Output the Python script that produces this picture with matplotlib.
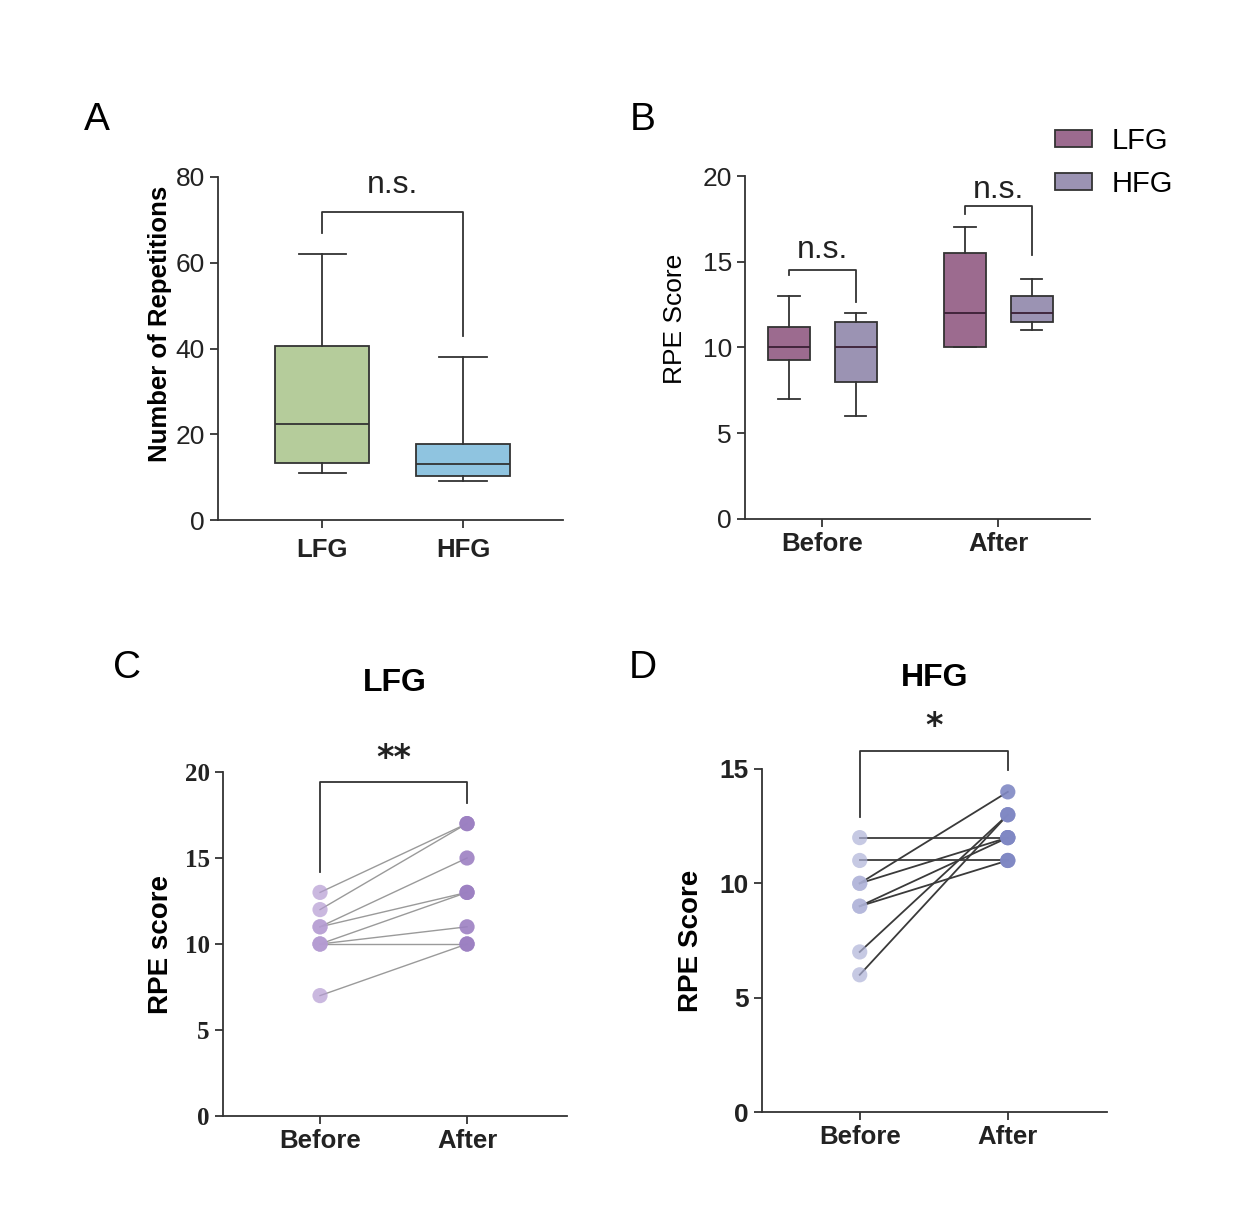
import numpy as np
import matplotlib
matplotlib.use("Agg")
import matplotlib.pyplot as plt
from matplotlib.patches import Patch

plt.rcParams['font.family'] = ['Liberation Sans', 'DejaVu Sans']

# ---- data ----
# panel A: number of repetitions (box stats: whislo, q1, med, q3, whishi)
groups_a = ['LFG', 'HFG']
stats_a = [[11, 13.2, 22.5, 40.5, 62],
           [9, 10.2, 13, 17.8, 38]]

# panel B: RPE before/after per group
times_b = ['Before', 'After']
stats_b_lfg = [[7, 9.3, 10, 11.2, 13], [10, 10, 12, 15.5, 17]]
stats_b_hfg = [[6, 8, 10, 11.5, 12], [11, 11.5, 12, 13, 14]]

# panel C: LFG paired RPE
lfg_before = [13, 12, 11, 11, 10, 10, 10, 7]
lfg_after = [17, 17, 15, 13, 13, 11, 10, 10]

# panel D: HFG paired RPE
hfg_before = [12, 11, 10, 10, 9, 9, 7, 6]
hfg_after = [12, 11, 14, 12, 12, 11, 13, 13]

W, H = 1240, 1231
fig = plt.figure(figsize=(W / 100, H / 100), dpi=100)


def px_axes(x0, y_top, x1, y_bot):
    return fig.add_axes([x0 / W, 1 - y_bot / H, (x1 - x0) / W, (y_bot - y_top) / H])


def style(ax):
    for s in ['top', 'right']:
        ax.spines[s].set_visible(False)
    for s in ['left', 'bottom']:
        ax.spines[s].set_linewidth(1.3)
        ax.spines[s].set_color('#333333')
    ax.tick_params(width=1.3, length=6, color='#333333', labelcolor='#222222')


def to_bxp(s, label):
    return dict(whislo=s[0], q1=s[1], med=s[2], q3=s[3], whishi=s[4], label=label, fliers=[])


def bracket(ax, x0, x1, y_left, y_top, y_right, text, ty, fs, weight='normal', family=None):
    ax.plot([x0, x0, x1, x1], [y_left, y_top, y_top, y_right], color='#333333', lw=1.3,
            clip_on=False)
    ax.text((x0 + x1) / 2, ty, text, ha='center', va='center', fontsize=fs,
            fontweight=weight, color='#222222', clip_on=False, family=family)


# ---- A ----
axA = px_axes(218, 177, 563, 520)
style(axA)
colors_a = ['#b5cc9b', '#8fc4e0']
bp = axA.bxp([to_bxp(s, g) for s, g in zip(stats_a, groups_a)], positions=[0, 1],
             widths=0.67, patch_artist=True, showfliers=False,
             boxprops=dict(lw=1.3, edgecolor='#333333'),
             whiskerprops=dict(lw=1.3, color='#333333'),
             capprops=dict(lw=1.3, color='#333333'),
             medianprops=dict(lw=1.3, color='#333333'))
for patch, c in zip(bp['boxes'], colors_a):
    patch.set_facecolor(c)
axA.set_xlim(-0.74, 1.71)
axA.set_ylim(0, 80)
axA.set_yticks([0, 20, 40, 60, 80])
axA.tick_params(axis='y', labelsize=19)
axA.tick_params(axis='x', labelsize=18.5, pad=7)
for t in axA.get_xticklabels():
    t.set_fontweight('bold')
axA.set_ylabel('Number of Repetitions', fontsize=18.5, fontweight='bold')
axA.yaxis.set_label_coords(-0.133, 0.571)
bracket(axA, 0, 1, 66.9, 71.8, 42.9, 'n.s.', 78.2, 23)

# ---- B ----
axB = px_axes(745, 176, 1090, 519)
style(axB)
off = 0.19
c_lfg, c_hfg = '#9c6b8f', '#9b93b3'
for stats, sign, col in [(stats_b_lfg, -1, c_lfg), (stats_b_hfg, 1, c_hfg)]:
    pos = [i + sign * off for i in range(len(times_b))]
    bpb = axB.bxp([to_bxp(s, '') for s in stats], positions=pos, widths=0.24,
                  patch_artist=True, showfliers=False, manage_ticks=False,
                  boxprops=dict(lw=1.3, edgecolor='#333333'),
                  whiskerprops=dict(lw=1.3, color='#333333'),
                  capprops=dict(lw=1.3, color='#333333'),
                  medianprops=dict(lw=1.3, color='#3a1f35'))
    for patch in bpb['boxes']:
        patch.set_facecolor(col)
axB.set_xticks(range(len(times_b)))
axB.set_xticklabels(times_b, fontsize=18.5, fontweight='bold')
axB.set_xlim(-0.44, 1.52)
axB.set_ylim(0, 20)
axB.set_yticks([0, 5, 10, 15, 20])
axB.tick_params(axis='y', labelsize=19)
axB.set_ylabel('RPE Score', fontsize=19)
axB.yaxis.set_label_coords(-0.168, 0.583)
bracket(axB, -off, off, 14.2, 14.5, 12.65, 'n.s.', 15.7, 23)
bracket(axB, 1 - off, 1 + off, 17.8, 18.25, 15.4, 'n.s.', 19.2, 23)
axB.legend(handles=[Patch(facecolor=c_lfg, edgecolor='#333333', lw=1.3, label='LFG'),
                    Patch(facecolor=c_hfg, edgecolor='#333333', lw=1.3, label='HFG')],
           loc='upper left', bbox_to_anchor=(1055 / W, 1 - 127 / H),
           bbox_transform=fig.transFigure, frameon=False, fontsize=21,
           borderpad=0, borderaxespad=0,
           handlelength=1.27, handleheight=0.5, labelspacing=0.5, handletextpad=0.68)

# ---- C ----
axC = px_axes(223, 772, 567, 1116)
style(axC)
xs = [0, 1]
for b, a in zip(lfg_before, lfg_after):
    axC.plot(xs, [b, a], color='#9a9a9a', lw=1.0, zorder=2)
axC.scatter([0] * len(lfg_before), lfg_before, s=120, color='#b49bd2', alpha=0.7,
            edgecolors='none', zorder=3)
axC.scatter([1] * len(lfg_after), lfg_after, s=120, color='#9c80c2', alpha=0.9,
            edgecolors='none', zorder=3)
axC.set_xticks(xs)
axC.set_xticklabels(times_b, fontsize=18.5, fontweight='bold')
axC.set_xlim(-0.66, 1.68)
axC.set_ylim(0, 20)
axC.set_yticks([0, 5, 10, 15, 20])
axC.set_yticklabels(['0', '5', '10', '15', '20'], family=['Liberation Serif'],
                    fontweight='bold', fontsize=18)
axC.set_ylabel('RPE score', fontsize=20, fontweight='bold')
axC.yaxis.set_label_coords(-0.142, 0.5)
axC.set_title('LFG', fontsize=23, fontweight='bold', pad=58)
bracket(axC, 0, 1, 14.2, 19.4, 18.2, '**', 20.8, 24, 'bold', ['DejaVu Sans'])

# ---- D ----
axD = px_axes(762, 769, 1107, 1112)
style(axD)
for b, a in zip(hfg_before, hfg_after):
    axD.plot(xs, [b, a], color='#3a3a3a', lw=1.3, zorder=2)
axD.scatter([0] * len(hfg_before), hfg_before, s=120, color='#aeb2d8', alpha=0.7,
            edgecolors='none', zorder=3)
axD.scatter([1] * len(hfg_after), hfg_after, s=120, color='#8088c4', alpha=0.9,
            edgecolors='none', zorder=3)
axD.set_xticks(xs)
axD.set_xticklabels(times_b, fontsize=18.5, fontweight='bold')
axD.set_xlim(-0.66, 1.67)
axD.set_ylim(0, 15)
axD.set_yticks([0, 5, 10, 15])
axD.tick_params(axis='y', labelsize=19)
for t in axD.get_yticklabels():
    t.set_fontweight('bold')
axD.set_ylabel('RPE Score', fontsize=20, fontweight='bold')
axD.yaxis.set_label_coords(-0.168, 0.5)
axD.set_title('HFG', fontsize=23, fontweight='bold', pad=60)
bracket(axD, 0, 1, 12.9, 15.8, 14.95, '*', 16.85, 24, 'bold', ['DejaVu Sans'])

# panel letters
for lab, x, y in [('A', 97, 120), ('B', 643, 120), ('C', 127, 668), ('D', 643, 668)]:
    fig.text(x / W, 1 - y / H, lab, fontsize=28, ha='center', va='center')

fig.savefig('out.png', dpi=100, facecolor='white')
